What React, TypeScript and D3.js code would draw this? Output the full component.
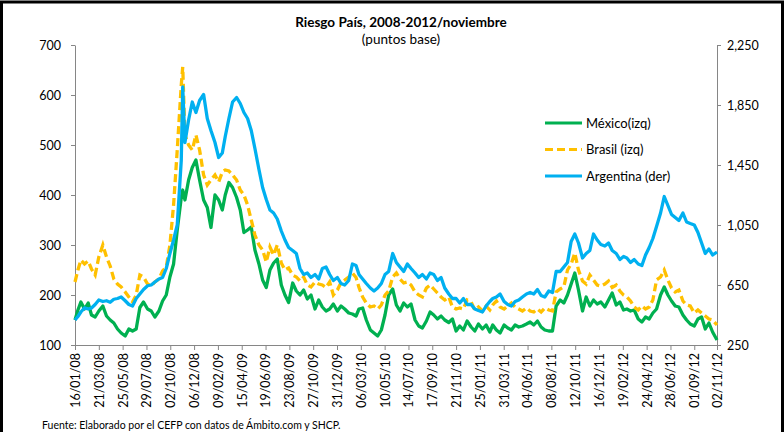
import React, { useEffect, useRef } from "react";
import * as d3 from "d3";

// Readings taken off the chart about every 10 days (México y Brasil: eje izq, Argentina: eje der)
const dates = [
  "2008-01-16", "2008-01-24", "2008-02-01", "2008-02-11", "2008-02-21", "2008-03-01", "2008-03-11", "2008-03-21",
  "2008-04-01", "2008-04-11", "2008-04-21", "2008-05-01", "2008-05-11", "2008-05-21", "2008-06-01", "2008-06-11",
  "2008-06-21", "2008-07-01", "2008-07-11", "2008-07-21", "2008-08-01", "2008-08-11", "2008-08-21", "2008-09-01",
  "2008-09-11", "2008-09-21", "2008-10-01", "2008-10-11", "2008-10-21", "2008-11-01", "2008-11-05", "2008-11-11",
  "2008-11-21", "2008-12-01", "2008-12-11", "2008-12-21",
  "2009-01-01", "2009-01-11", "2009-01-21", "2009-02-01", "2009-02-11", "2009-02-21", "2009-03-01", "2009-03-11",
  "2009-03-21", "2009-04-01", "2009-04-11", "2009-04-21", "2009-05-01", "2009-05-11", "2009-05-21", "2009-06-01",
  "2009-06-11", "2009-06-21", "2009-07-01", "2009-07-11", "2009-07-21", "2009-08-01", "2009-08-11", "2009-08-21",
  "2009-09-01", "2009-09-11", "2009-09-21", "2009-10-01", "2009-10-11", "2009-10-21", "2009-11-01", "2009-11-11",
  "2009-11-21", "2009-12-01", "2009-12-11", "2009-12-21",
  "2010-01-01", "2010-01-11", "2010-01-21", "2010-02-01", "2010-02-11", "2010-02-21", "2010-03-01", "2010-03-11",
  "2010-03-21", "2010-04-01", "2010-04-11", "2010-04-21", "2010-05-01", "2010-05-11", "2010-05-21", "2010-06-01",
  "2010-06-11", "2010-06-21", "2010-07-01", "2010-07-11", "2010-07-21", "2010-08-01", "2010-08-11", "2010-08-21",
  "2010-09-01", "2010-09-11", "2010-09-21", "2010-10-01", "2010-10-11", "2010-10-21", "2010-11-01", "2010-11-11",
  "2010-11-21", "2010-12-01", "2010-12-11", "2010-12-21",
  "2011-01-01", "2011-01-11", "2011-01-21", "2011-02-01", "2011-02-11", "2011-02-21", "2011-03-01", "2011-03-11",
  "2011-03-21", "2011-04-01", "2011-04-11", "2011-04-21", "2011-05-01", "2011-05-11", "2011-05-21", "2011-06-01",
  "2011-06-11", "2011-06-21", "2011-07-01", "2011-07-11", "2011-07-21", "2011-08-01", "2011-08-11", "2011-08-21",
  "2011-09-01", "2011-09-11", "2011-09-21", "2011-10-01", "2011-10-11", "2011-10-21", "2011-11-01", "2011-11-11",
  "2011-11-21", "2011-12-01", "2011-12-11", "2011-12-21",
  "2012-01-01", "2012-01-11", "2012-01-21", "2012-02-01", "2012-02-11", "2012-02-21", "2012-03-01", "2012-03-11",
  "2012-03-21", "2012-04-01", "2012-04-11", "2012-04-21", "2012-05-01", "2012-05-11", "2012-05-21", "2012-06-01",
  "2012-06-11", "2012-06-21", "2012-07-01", "2012-07-11", "2012-07-21", "2012-08-01", "2012-08-11", "2012-08-21",
  "2012-09-01", "2012-09-11", "2012-09-21", "2012-10-01", "2012-10-11", "2012-10-21", "2012-11-02",
];

const mexico = [
  // 2008
  150, 170, 186, 172, 184, 160, 156, 168, 178, 158, 150, 144, 132, 124, 118, 132, 128, 132,
  175, 186, 172, 168, 156, 168, 188, 200, 236, 262, 330, 395, 410, 390, 430, 455, 470, 430,
  // 2009
  390, 375, 335, 400, 390, 370, 400, 425, 415, 395, 370, 325, 330, 336, 290, 262, 230, 215,
  250, 264, 272, 220, 200, 185, 224, 208, 200, 210, 192, 200, 172, 190, 176, 168, 172, 182,
  // 2010
  168, 178, 172, 164, 162, 158, 172, 174, 150, 130, 124, 118, 130, 160, 200, 212, 180, 168,
  184, 176, 182, 150, 138, 134, 148, 166, 160, 152, 158, 150, 145, 152, 128, 138, 130, 148,
  // 2011
  136, 128, 142, 132, 140, 126, 140, 130, 124, 140, 134, 130, 140, 136, 138, 142, 146, 140,
  148, 136, 130, 128, 128, 178, 190, 184, 200, 222, 244, 210, 168, 196, 178, 190, 182, 186,
  // 2012
  176, 190, 204, 180, 186, 170, 172, 168, 170, 152, 146, 156, 152, 164, 172, 200, 216, 200,
  188, 178, 176, 160, 150, 142, 138, 152, 156, 132, 144, 126, 110,
];

const brasil = [
  // 2008
  226, 250, 270, 262, 268, 252, 240, 276, 300, 276, 258, 232, 222, 216, 206, 196, 186, 200,
  240, 236, 222, 218, 226, 232, 248, 256, 300, 380, 490, 620, 656, 520, 500, 490, 520, 490,
  // 2009
  440, 420, 430, 440, 426, 446, 450, 448, 440, 430, 410, 400, 380, 350, 320, 300, 290, 266,
  296, 280, 300, 264, 250, 254, 240, 236, 228, 236, 220, 216, 226, 222, 220, 215, 226, 200,
  // 2010
  210, 225, 230, 236, 244, 235, 215, 196, 184, 176, 178, 172, 180, 200, 208, 236, 244, 232,
  224, 226, 220, 206, 200, 196, 214, 220, 212, 204, 196, 190, 196, 176, 172, 174, 172, 190,
  // 2011
  186, 170, 176, 168, 178, 170, 180, 188, 176, 172, 178, 184, 176, 172, 168, 174, 168, 166,
  172, 166, 174, 170, 168, 206, 212, 216, 250, 262, 284, 250, 228, 222, 240, 230, 220, 218,
  // 2012
  222, 228, 215, 220, 208, 200, 196, 188, 176, 170, 178, 172, 176, 190, 230, 236, 250, 230,
  214, 206, 210, 188, 180, 178, 164, 170, 164, 158, 152, 150, 140,
];

const argentina = [
  // 2008
  417, 440, 470, 497, 490, 497, 520, 550, 540, 545, 535, 555, 560, 570, 545, 520, 510, 560,
  590, 620, 645, 650, 670, 690, 700, 760, 860, 950, 1050, 1480, 1970, 1600, 1750, 1870, 1800, 1880,
  // 2009
  1920, 1760, 1680, 1600, 1500, 1530, 1640, 1760, 1870, 1900, 1860, 1800, 1760, 1680, 1560, 1420, 1300, 1220,
  1150, 1130, 1090, 1010, 950, 900, 880, 860, 760, 720, 730, 700, 720, 690, 760, 770, 720, 680,
  // 2010
  700, 660, 650, 680, 790, 780, 720, 690, 660, 630, 610, 630, 660, 720, 740, 860, 800, 770,
  740, 790, 760, 730, 700, 720, 690, 730, 720, 680, 700, 630, 590, 560, 560, 530, 560, 520,
  // 2011
  520, 490, 480, 470, 510, 540, 560, 570, 590, 540, 520, 510, 540, 550, 570, 590, 600, 590,
  620, 580, 570, 610, 600, 740, 740, 770, 800, 940, 990, 930, 830, 860, 880, 990, 950, 920,
  // 2012
  910, 930, 880, 860, 820, 840, 830, 800, 820, 790, 780, 850, 900, 960, 1040, 1130, 1240, 1180,
  1120, 1100, 1080, 1130, 1070, 1060, 1050, 1000, 930, 860, 890, 850, 870,
];

const xTicks = [
  "2008-01-16", "2008-03-21", "2008-05-25", "2008-07-29", "2008-10-02", "2008-12-06",
  "2009-02-09", "2009-04-15", "2009-06-19", "2009-08-23", "2009-10-27", "2009-12-31",
  "2010-03-06", "2010-05-10", "2010-07-14", "2010-09-17", "2010-11-21", "2011-01-25",
  "2011-03-31", "2011-06-04", "2011-08-08", "2011-10-12", "2011-12-16", "2012-02-19",
  "2012-04-24", "2012-06-28", "2012-09-01", "2012-11-02",
];
const leftTicks = [100, 200, 300, 400, 500, 600, 700];
const rightTicks = [250, 650, 1050, 1450, 1850, 2250];

const seriesNames = ["México(izq)", "Brasil (izq)", "Argentina (der)"];
const colors = ["#00B050", "#FFC000", "#00B0F0"];

const W = 784;
const H = 432;
const plot = { left: 75, right: 717, top: 45, bottom: 345 };
const font = "Lato, 'Open Sans', sans-serif";
const axisColor = "#868686";

export default function App() {
  const ref = useRef<SVGSVGElement>(null);

  useEffect(() => {
    const svg = d3.select(ref.current);
    svg.selectAll("*").remove();

    const parse = d3.timeParse("%Y-%m-%d");
    const dt = dates.map((d) => parse(d) as Date);

    const x = d3
      .scaleTime()
      .domain([dt[0], dt[dt.length - 1]])
      .range([plot.left, plot.right]);
    const yL = d3.scaleLinear().domain([100, 700]).range([plot.bottom, plot.top]);
    const yR = d3.scaleLinear().domain([250, 2250]).range([plot.bottom, plot.top]);

    // frame
    svg
      .append("rect")
      .attr("x", 1.5)
      .attr("y", 2)
      .attr("width", W - 3)
      .attr("height", H + 10)
      .attr("fill", "#fff")
      .attr("stroke", "#000")
      .attr("stroke-width", 3);

    // title
    svg
      .append("text")
      .attr("x", 401)
      .attr("y", 27)
      .attr("text-anchor", "middle")
      .style("font", `bold 13.5px ${font}`)
      .text("Riesgo País, 2008-2012/noviembre");
    svg
      .append("text")
      .attr("x", 401)
      .attr("y", 44)
      .attr("text-anchor", "middle")
      .style("font", `13.5px ${font}`)
      .text("(puntos base)");

    // axes
    const fmt = d3.timeFormat("%d/%m/%y");
    const gx = svg
      .append("g")
      .attr("transform", `translate(0,${plot.bottom})`)
      .call(
        d3
          .axisBottom(x)
          .tickValues(xTicks.map((d) => parse(d) as Date))
          .tickFormat((d) => fmt(d as Date))
          .tickSizeInner(5)
          .tickSizeOuter(0)
      );
    gx.selectAll("text")
      .attr("transform", "rotate(-90)")
      .attr("x", -8)
      .attr("y", 0)
      .attr("dy", "0.35em")
      .style("text-anchor", "end");

    const gl = svg
      .append("g")
      .attr("transform", `translate(${plot.left},0)`)
      .call(d3.axisLeft(yL).tickValues(leftTicks).tickSizeInner(4).tickSizeOuter(0).tickPadding(10));

    const gr = svg
      .append("g")
      .attr("transform", `translate(${plot.right},0)`)
      .call(
        d3
          .axisRight(yR)
          .tickValues(rightTicks)
          .tickFormat(d3.format(","))
          .tickSizeInner(4)
          .tickSizeOuter(0)
          .tickPadding(6)
      );

    [gx, gl, gr].forEach((g) => {
      g.selectAll("path, line").attr("stroke", axisColor);
      g.selectAll("text").style("font", `12.5px ${font}`).attr("fill", "#000");
    });

    // series
    const lineL = d3
      .line<number>()
      .x((_, i) => x(dt[i]))
      .y((d) => yL(d));
    const lineR = d3
      .line<number>()
      .x((_, i) => x(dt[i]))
      .y((d) => yR(d));

    svg
      .append("path")
      .attr("d", lineL(mexico))
      .attr("fill", "none")
      .attr("stroke", colors[0])
      .attr("stroke-width", 3.3)
      .attr("stroke-linejoin", "round");
    svg
      .append("path")
      .attr("d", lineL(brasil))
      .attr("fill", "none")
      .attr("stroke", colors[1])
      .attr("stroke-width", 3.3)
      .attr("stroke-dasharray", "8,4");
    svg
      .append("path")
      .attr("d", lineR(argentina))
      .attr("fill", "none")
      .attr("stroke", colors[2])
      .attr("stroke-width", 3.3)
      .attr("stroke-linejoin", "round");

    // legend
    const lg = svg.append("g");
    seriesNames.forEach((name, i) => {
      const y = 123 + i * 26.5;
      lg.append("line")
        .attr("x1", 545)
        .attr("x2", 582)
        .attr("y1", y)
        .attr("y2", y)
        .attr("stroke", colors[i])
        .attr("stroke-width", 3)
        .attr("stroke-dasharray", i === 1 ? "8,4" : null);
      lg.append("text")
        .attr("x", 586)
        .attr("y", y)
        .attr("dy", "0.35em")
        .style("font", `13px ${font}`)
        .text(name);
    });

    // source
    svg
      .append("text")
      .attr("x", 42)
      .attr("y", 425)
      .attr("dy", "0.35em")
      .style("font", `10.5px ${font}`)
      .text("Fuente: Elaborado por el CEFP con datos de Ámbito.com y SHCP.");
  }, []);

  return (
    <svg
      ref={ref}
      width={W}
      height={H}
      style={{ position: "absolute", left: 0, top: 0, background: "#fff" }}
    />
  );
}
